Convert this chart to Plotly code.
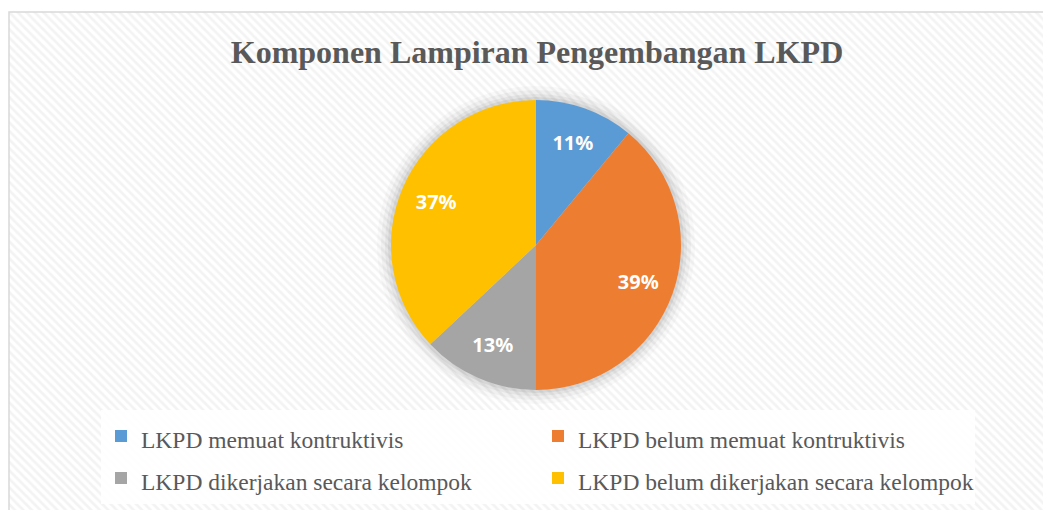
import plotly.graph_objects as go

# the page body adds an 8px margin, so the figure is drawn 8px smaller and
# every pixel position below is given in window coordinates minus that offset
OFF = 8
W, H = 1051 - OFF, 510 - OFF

labels = ["LKPD memuat kontruktivis", "LKPD belum memuat kontruktivis",
          "LKPD dikerjakan secara kelompok", "LKPD belum dikerjakan secara kelompok"]
values = [11, 39, 13, 37]
colors = ["#5B9BD5", "#ED7D31", "#A5A5A5", "#FFC000"]


def px(x):
    return (x - OFF) / W


def py(y):
    return 1 - (y - OFF) / H


# pie geometry (window pixels)
cx, cy, r = 536, 245, 145


def dom(rad):
    return dict(x=[px(cx - rad), px(cx + rad)], y=[py(cy + rad), py(cy - rad)])


fig = go.Figure()

# hatched chart area background
fig.add_trace(go.Bar(x=[0], y=[1], width=1, showlegend=False, hoverinfo="skip",
                     marker=dict(color="white", line_width=0,
                                 pattern=dict(shape="\\", fgcolor="#e8e8e8", bgcolor="white",
                                              size=6, solidity=0.45))))

# soft shadow behind the pie
for k, a in [(14, 0.025), (10, 0.035), (6, 0.045), (3, 0.06)]:
    fig.add_trace(go.Pie(values=[1], labels=["s"], domain=dom(r + k), sort=False,
                         marker=dict(colors=[f"rgba(0,0,0,{a})"], line_width=0),
                         textinfo="none", hoverinfo="skip", showlegend=False))

fig.add_trace(go.Pie(
    labels=[f"<span style='font-size:23.5px'>{l}</span>" for l in labels],
    values=values, sort=False, direction="clockwise", rotation=0,
    domain=dom(r),
    marker=dict(colors=colors, line=dict(color="white", width=0)),
    textinfo="none",
    showlegend=True,
))

# transparent ring on top, only to place the percentage labels further out
fig.add_trace(go.Pie(
    labels=labels, values=values, sort=False, direction="clockwise", rotation=0,
    domain=dom(r), hole=0.5,
    marker=dict(colors=["rgba(0,0,0,0)"] * 4, line_width=0),
    textposition="inside", insidetextorientation="horizontal",
    texttemplate="%{value}%",
    textfont=dict(family="Noto Sans", size=20, color="white", weight="bold"),
    hoverinfo="skip", showlegend=False,
))

fig.update_layout(
    width=W, height=H,
    margin=dict(l=0, r=0, t=0, b=0, autoexpand=False),
    paper_bgcolor="white", plot_bgcolor="white",
    bargap=0,
    title=dict(text="<b>Komponen Lampiran Pengembangan LKPD</b>", x=px(537), xanchor="center",
               y=py(52), yanchor="middle",
               font=dict(family="Liberation Serif", size=32, color="#595959")),
    xaxis=dict(domain=[px(9), 1], range=[-0.5, 0.5], visible=False, fixedrange=True),
    yaxis=dict(domain=[0, py(12)], range=[0, 1], visible=False, fixedrange=True),
    legend=dict(orientation="h", x=px(101), xanchor="left", y=py(410), yanchor="top",
                bgcolor="rgba(255,255,255,0.85)", entrywidth=392, entrywidthmode="pixels",
                font=dict(family="Liberation Serif", size=30, color="#595959"),
                traceorder="normal"),
    shapes=[dict(type="rect", xref="paper", yref="paper", x0=px(9), x1=1.01,
                 y0=-0.01, y1=py(12), line=dict(color="#d9d9d9", width=1.5))],
)

fig.write_html("out.html")
